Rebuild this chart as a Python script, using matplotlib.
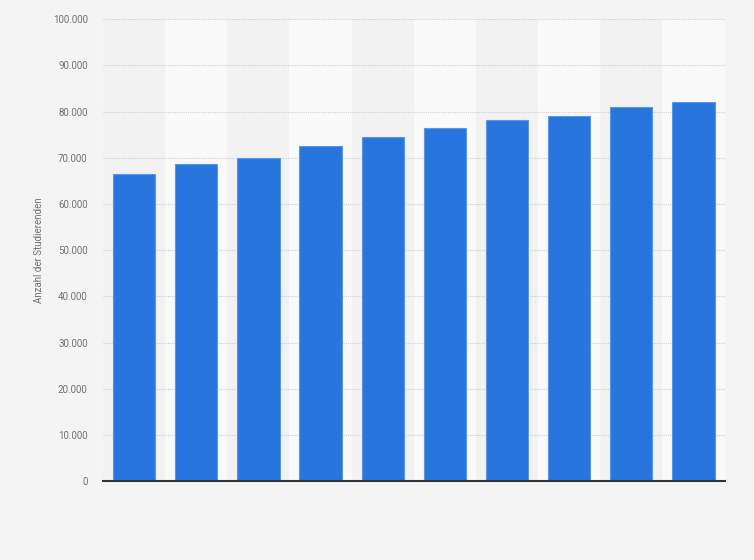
import numpy as np
import matplotlib.pyplot as plt
from matplotlib.ticker import FuncFormatter

# values (number of students per year, 10 bars, no x labels)
positions = np.arange(10)
students = [66600, 68600, 69900, 72500, 74600, 76400, 78100, 79100, 81100, 82200]
y_ticks = np.arange(0, 100001, 10000)

bar_color = '#2876dd'
edge_color = '#5c97e6'

plt.rcParams['font.family'] = ['Roboto', 'DejaVu Sans']

fig = plt.figure(figsize=(7.54, 5.6), dpi=100, facecolor='#f4f4f4')
ax = fig.add_axes([0.1366, 0.141, 0.8244, 0.8245])
ax.set_facecolor('#f2f2f2')

# alternating column bands
for i in positions:
    if i % 2 == 1:
        ax.axvspan(i - 0.5, i + 0.5, color='#f9f9f9', zorder=0, lw=0)

ax.bar(positions, students, width=0.68, color=bar_color,
       edgecolor=edge_color, linewidth=0.8, zorder=3)

ax.set_xlim(-0.5, 9.5)
ax.set_ylim(0, 100000)
ax.set_yticks(y_ticks)
ax.yaxis.set_major_formatter(FuncFormatter(lambda v, p: f'{int(v):,}'.replace(',', '.')))
ax.set_xticks([])

ax.grid(axis='y', color='#cfcfcf', linestyle=(0, (1, 1)), linewidth=0.8, zorder=1)
ax.set_axisbelow(True)

for side in ['top', 'right', 'left']:
    ax.spines[side].set_visible(False)
ax.spines['bottom'].set_color('#333333')
ax.spines['bottom'].set_linewidth(1.5)
ax.spines['bottom'].set_zorder(4)

ax.tick_params(axis='y', length=0, pad=11, labelsize=7, labelcolor='#707070')
ax.set_ylabel('Anzahl der Studierenden', fontsize=7, color='#707070', labelpad=6)

plt.savefig('out.png', dpi=100, facecolor=fig.get_facecolor())
